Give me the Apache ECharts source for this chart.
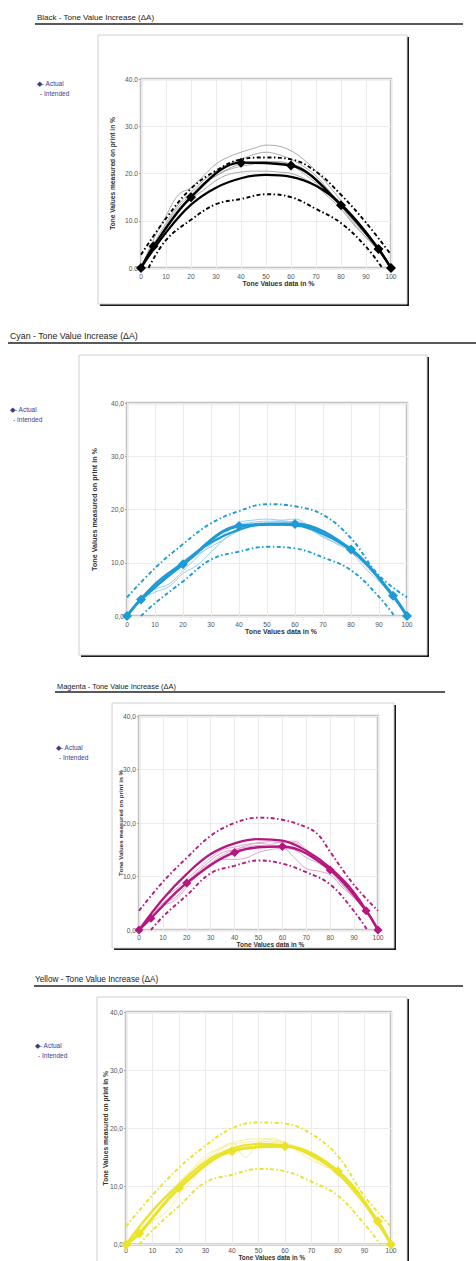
<!DOCTYPE html>
<html>
<head>
<meta charset="utf-8">
<script src="https://cdn.jsdelivr.net/npm/echarts@6/dist/echarts.min.js"></script>
<style>
  html, body { margin: 0; padding: 0; background: #fff; }
  #chart { width: 476px; height: 1261px; }
</style>
</head>
<body>
<div id="chart"></div>
<script>
// ---------- data ----------
const TITLES = ['Black - Tone Value Increase (\u0394A)', 'Cyan - Tone Value Increase (\u0394A)', 'Magenta - Tone Value Increase (\u0394A)', 'Yellow - Tone Value Increase (\u0394A)'];
const LEGEND_ACTUAL = '\u25C6- Actual';
const LEGEND_INTENDED = '- Intended';
const X_AXIS_NAME = 'Tone Values data in %';
const Y_AXIS_NAME = 'Tone Values measured on print in %';
const Y_TICKS_DOT = ['0.0', '10.0', '20.0', '30.0', '40.0'];
const Y_TICKS_COMMA = ['0,0', '10,0', '20,0', '30,0', '40,0'];
const X_TICKS = ['0', '10', '20', '30', '40', '50', '60', '70', '80', '90', '100'];

const X_ACTUAL = [0, 5, 20, 40, 60, 80, 95, 100];
const X_CURVE = [0, 10, 20, 30, 40, 50, 60, 70, 80, 90, 100];
const X_THIN = [0, 5, 10, 15, 20, 25, 30, 35, 40, 45, 50, 55, 60, 65, 70, 75, 80, 85, 90, 95, 100];

// Black
const blackActual = [0, 4.6, 15.0, 22.3, 21.7, 13.3, 4.0, 0];
const blackIntended = [0, 7.5, 13.4, 17.0, 19.0, 19.7, 19.3, 17.4, 13.5, 7.6, 0];
const blackUpper = [2.8, 10.5, 16.8, 20.6, 23.0, 23.4, 23.0, 20.4, 15.5, 9.6, 2.8];
const blackLowerX = [3, 10, 20, 30, 40, 50, 60, 70, 80, 90, 96.5];
const blackLower = [0, 5.9, 10.2, 13.5, 14.6, 15.6, 15.0, 12.5, 9.5, 4.5, 0];
const blackThin1 = [0, 6, 11, 15.5, 17, 19.5, 22, 23.5, 24.5, 25.3, 26, 25.8, 24.8, 23, 20.5, 17.5, 14.2, 10.5, 7.5, 4.5, 0];
const blackThin2 = [0, 5, 9.5, 13.5, 16, 18.5, 20.5, 22, 23, 24, 24.5, 24, 23, 21.5, 19.5, 16.5, 13.5, 10, 7, 4, 0];
const blackThin3 = [0, 4.5, 8.5, 12.5, 15, 17.5, 19.5, 21, 22, 22.3, 22.5, 22.3, 21.8, 20, 18, 15.5, 13, 9.5, 6.5, 3.8, 0];
const blackThin4 = [0, 4, 8, 12, 14.5, 16.5, 18.5, 19.8, 20.3, 20.5, 20.5, 20.3, 20, 19, 17.3, 15, 12.5, 9.2, 6.5, 3.6, 0];
const blackThin5 = [0, 4.5, 9, 13, 15.5, 18, 19.5, 20.8, 21.5, 22, 22.5, 22.5, 22, 21, 18.5, 16, 13.2, 10, 7, 4, 0];

// Cyan
const cyanActual = [0, 3.1, 9.7, 16.9, 17.3, 12.5, 3.8, 0];
const cyanIntended = [0, 6.0, 10.0, 13.8, 16.2, 17.2, 17.0, 15.4, 12.3, 7.2, 0];
const cyanUpper = [3.5, 9.0, 13.5, 17.4, 19.7, 21.0, 20.6, 19.0, 14.6, 7.6, 3.5];
const cyanLowerX = [5, 10, 20, 30, 40, 50, 60, 70, 80, 90, 95.5];
const cyanLower = [0, 2.4, 6.5, 10.6, 12.1, 13.0, 12.7, 11.0, 8.6, 3.6, 0];
const cyanThin1 = [0, 3, 5, 6, 8.5, 11, 13.5, 15.5, 17.5, 18, 18.2, 18, 18.2, 17, 15.5, 14, 12.5, 9.5, 7, 4, 0];
const cyanThin2 = [0, 3.3, 5.5, 7.5, 9.5, 11.5, 13, 14.5, 16, 17, 17.5, 17.8, 17.5, 16.5, 15, 13.5, 12, 9, 6.5, 3.8, 0];
const cyanThin3 = [0, 3, 4.5, 5.5, 8, 9.5, 12, 14.5, 16.5, 17.3, 17.5, 17.5, 17.8, 16.8, 15.3, 14, 12.8, 10, 7.2, 4, 0];
const cyanThin4 = [0, 3.5, 6, 8, 10.3, 12.3, 14.5, 16.3, 17.2, 17.6, 17.8, 17.8, 17.5, 16.3, 14.8, 13.6, 12.6, 9.8, 7, 3.9, 0];

// Magenta
const magentaActual = [0, 2.2, 8.8, 14.5, 15.6, 11.2, 3.6, 0];
const magentaIntended = [0, 5.8, 10.5, 14.2, 16.2, 17.0, 16.7, 14.8, 11.6, 7.0, 0];
const magentaUpperX = [0, 10, 20, 30, 40, 50, 60, 70, 75, 80, 90, 100];
const magentaUpper = [3.6, 9.0, 13.5, 17.6, 20.0, 21.0, 20.6, 19.2, 17.8, 14.6, 8.4, 3.6];
const magentaLowerX = [5, 10, 20, 30, 40, 50, 60, 70, 80, 90, 95.5];
const magentaLower = [0, 2.5, 6.5, 10.6, 12.0, 13.0, 12.4, 10.8, 8.5, 3.5, 0];
const magentaThin1 = [0, 2.5, 4.5, 5.5, 8, 10.5, 12.3, 13.2, 13.2, 13.5, 14.5, 15, 15.3, 13.5, 11.5, 11, 10.3, 8, 6, 3.5, 0];
const magentaThin2 = [0, 2.5, 5, 6, 8.5, 11, 13, 14.5, 15, 15.8, 16.3, 16.5, 16.3, 16.3, 14.5, 12.8, 11, 8.5, 6, 3.6, 0];
const magentaThin3 = [0, 2.8, 6, 7.5, 9.5, 11.5, 13.5, 15, 15.5, 16, 16.2, 16, 16.5, 16.6, 15, 13, 11.3, 8.8, 6.3, 3.7, 0];
const magentaThin4 = [0, 2.3, 5, 7, 9, 11, 12.5, 14, 15, 15.5, 15.8, 15.5, 15.3, 15, 13.5, 12.5, 11, 8.5, 6, 3.5, 0];

// Yellow
const yellowActual = [0, 1.9, 9.7, 16.1, 16.9, 12.6, 4.0, 0];
const yellowIntended = [0, 5.8, 10.3, 14.2, 16.5, 17.3, 17.0, 15.3, 12.2, 7.0, 0];
const yellowUpper = [3.1, 8.5, 13.2, 17.0, 20.0, 21.0, 20.8, 19.0, 15.2, 8.3, 3.1];
const yellowLowerX = [5, 10, 20, 30, 40, 50, 60, 70, 80, 90, 96];
const yellowLower = [0, 2.5, 6.6, 10.7, 12.0, 13.0, 12.6, 10.8, 8.4, 3.5, 0];
const yellowThin1 = [0, 1.5, 4, 5.5, 8.5, 11, 14, 16, 17.5, 15, 17.5, 18.3, 17.5, 16.5, 15.5, 14.5, 12.5, 9.5, 7, 4, 0];
const yellowThin2 = [0, 2.5, 5.5, 8, 10.5, 13, 15.3, 16.5, 17.5, 18, 18.2, 18, 17.6, 16.5, 15.3, 14, 12.5, 9.8, 7, 4, 0];
const yellowThin3 = [0, 2, 4.5, 7, 9.5, 12, 14.5, 15.5, 15.5, 16.8, 17.5, 17.8, 17.3, 16, 14.5, 13.5, 12, 9.5, 6.8, 4, 0];
const yellowThin4 = [0, 3, 6, 8.5, 10.8, 12.8, 14.8, 16.3, 17.2, 17.6, 17.8, 17.6, 17.3, 16.5, 15, 13.5, 12.8, 10, 7.2, 4.2, 0];

// ---------- layout / style ----------
const FONT = '"Liberation Sans", Arial, sans-serif';
const panels = [
  {
    title: TITLES[0], titleX: 37, titleY: 18, titleSize: 8, ruleY: 24, ruleX1: 35, ruleX2: 463,
    box: [98, 35, 309, 269], legX: 37, legY: 84,
    grid: { left: 141, top: 79, width: 250, height: 189 },
    yTicks: Y_TICKS_DOT, xLabelMargin: 5, xNameGap: 11.5, xNameSize: 6.9, yNameGap: 25.5, yNameSize: 6.6,
    main: '#000000', thin: '#a0a0a0', actualW: 2.4, symbol: 10,
    actual: blackActual, intended: blackIntended,
    upperX: X_CURVE, upper: blackUpper, lowerX: blackLowerX, lower: blackLower,
    thins: [blackThin1, blackThin2, blackThin3, blackThin4, blackThin5]
  },
  {
    title: TITLES[1], titleX: 10, titleY: 336.5, titleSize: 8.8, ruleY: 343, ruleX1: 8, ruleX2: 476,
    box: [79, 355, 348, 300], legX: 10, legY: 410,
    grid: { left: 127, top: 403, width: 280, height: 213 },
    yTicks: Y_TICKS_COMMA, xLabelMargin: 5, xNameGap: 12, xNameSize: 6.9, yNameGap: 29, yNameSize: 7.2,
    main: '#1e9ad6', thin: '#8fc9ea', actualW: 3, symbol: 10,
    actual: cyanActual, intended: cyanIntended,
    upperX: X_CURVE, upper: cyanUpper, lowerX: cyanLowerX, lower: cyanLower,
    thins: [cyanThin1, cyanThin2, cyanThin3, cyanThin4]
  },
  {
    title: TITLES[2], titleX: 57, titleY: 687, titleSize: 7.4, ruleY: 692, ruleX1: 55, ruleX2: 445,
    box: [112, 703, 282, 245], legX: 56, legY: 748,
    grid: { left: 139, top: 716, width: 239, height: 214 },
    yTicks: Y_TICKS_COMMA, xLabelMargin: 4, xNameGap: 10.5, xNameSize: 6.5, yNameGap: 16, yNameSize: 6.2,
    main: '#b5177f', thin: '#dc9ac7', actualW: 2.4, symbol: 9,
    actual: magentaActual, intended: magentaIntended,
    upperX: magentaUpperX, upper: magentaUpper, lowerX: magentaLowerX, lower: magentaLower,
    thins: [magentaThin1, magentaThin2, magentaThin3, magentaThin4]
  },
  {
    title: TITLES[3], titleX: 35, titleY: 980, titleSize: 8.2, ruleY: 986, ruleX1: 34, ruleX2: 463,
    box: [97, 997, 310, 300], legX: 35, legY: 1046,
    grid: { left: 126, top: 1012, width: 265, height: 233 },
    yTicks: Y_TICKS_COMMA, xLabelMargin: 2.5, xNameGap: 9.5, xNameSize: 6.4, yNameGap: 17, yNameSize: 6.7,
    main: '#ebe22a', thin: '#f3ee96', actualW: 3, symbol: 10,
    actual: yellowActual, intended: yellowIntended,
    upperX: X_CURVE, upper: yellowUpper, lowerX: yellowLowerX, lower: yellowLower,
    thins: [yellowThin1, yellowThin2, yellowThin3, yellowThin4]
  }
];

function zip(xs, ys) { return xs.map((x, i) => [x, ys[i]]); }

const grids = [], xAxes = [], yAxes = [], series = [], graphics = [];
const DASH = [4, 2.5, 1.5, 2.5];

panels.forEach((p, i) => {
  graphics.push({
    type: 'text', left: p.titleX, top: p.titleY - p.titleSize * 0.6, z: 5,
    style: { text: p.title, fill: '#1a1a1a', font: `${p.titleSize}px ${FONT}` }
  });
  graphics.push({
    type: 'line', z: 5,
    shape: { x1: p.ruleX1, y1: p.ruleY, x2: p.ruleX2, y2: p.ruleY },
    style: { stroke: '#222', lineWidth: 1.6 }
  });
  const [bx, by, bw, bh] = p.box;
  graphics.push({
    type: 'rect', z: -10, shape: { x: bx + 2, y: by + 2, width: bw, height: bh },
    style: { fill: '#1a1a1a' }
  });
  graphics.push({
    type: 'rect', z: -9, shape: { x: bx, y: by, width: bw, height: bh },
    style: { fill: '#ffffff', stroke: '#d0d0d0', lineWidth: 1 }
  });
  graphics.push({
    type: 'text', left: p.legX, top: p.legY - 4, z: 5,
    style: { text: LEGEND_ACTUAL, fill: '#3d3d8a', font: `6.5px ${FONT}` }
  });
  graphics.push({
    type: 'text', left: p.legX + 3, top: p.legY + 6, z: 5,
    style: { text: LEGEND_INTENDED, fill: '#3d3d8a', font: `6.5px ${FONT}` }
  });

  grids.push(Object.assign({ show: true, borderColor: '#c4c4c4', borderWidth: 2.5, backgroundColor: 'transparent', containLabel: false }, p.grid));

  xAxes.push({
    type: 'value', gridIndex: i, min: 0, max: 100, interval: 10,
    name: X_AXIS_NAME, nameLocation: 'middle', nameGap: p.xNameGap, nameMoveOverlap: false,
    nameTextStyle: { fontFamily: FONT, fontSize: p.xNameSize, fontWeight: 'bold', color: '#333', padding: [0, 0, 0, p.grid.width * 0.1] },
    axisLine: { show: false },
    axisTick: { show: false },
    axisLabel: { fontFamily: FONT, fontSize: 6.7, color: '#555', margin: p.xLabelMargin, formatter: v => X_TICKS[Math.round(v / 10)] },
    splitLine: { show: true, lineStyle: { color: '#ebebeb', width: 1 } }
  });
  const ticks = p.yTicks;
  yAxes.push({
    type: 'value', gridIndex: i, min: 0, max: 40, interval: 10,
    name: Y_AXIS_NAME, nameLocation: 'middle', nameGap: p.yNameGap, nameRotate: 90, nameMoveOverlap: false,
    nameTextStyle: { fontFamily: FONT, fontSize: p.yNameSize, fontWeight: 'bold', color: '#333' },
    axisLine: { show: false },
    axisTick: { show: true, length: 2, lineStyle: { color: '#aaa' } },
    axisLabel: { fontFamily: FONT, fontSize: 6.7, color: '#555', margin: 3, formatter: v => ticks[Math.round(v / 10)] },
    splitLine: { show: true, lineStyle: { color: '#ebebeb', width: 1 } }
  });

  p.thins.forEach(t => {
    series.push({
      type: 'line', xAxisIndex: i, yAxisIndex: i, data: zip(X_THIN, t), smooth: 0.4,
      symbol: 'none', lineStyle: { color: p.thin, width: 0.9 }, z: 2, silent: true
    });
  });
  series.push({
    type: 'line', xAxisIndex: i, yAxisIndex: i, data: zip(p.upperX, p.upper), smooth: 0.4,
    symbol: 'none', lineStyle: { color: p.main, width: 1.9, type: DASH }, z: 3
  });
  series.push({
    type: 'line', xAxisIndex: i, yAxisIndex: i, data: zip(p.lowerX, p.lower), smooth: 0.4,
    symbol: 'none', lineStyle: { color: p.main, width: 1.9, type: DASH }, z: 3
  });
  series.push({
    type: 'line', xAxisIndex: i, yAxisIndex: i, data: zip(X_CURVE, p.intended), smooth: 0.4,
    symbol: 'none', lineStyle: { color: p.main, width: 2.2 }, z: 4
  });
  series.push({
    type: 'line', xAxisIndex: i, yAxisIndex: i, data: zip(X_ACTUAL, p.actual), smooth: 0.35,
    symbol: 'diamond', symbolSize: p.symbol, itemStyle: { color: p.main },
    lineStyle: { color: p.main, width: p.actualW }, z: 5
  });
});

const chart = echarts.init(document.getElementById('chart'), null, { renderer: 'svg', width: 476, height: 1261 });
chart.setOption({
  animation: false,
  backgroundColor: '#ffffff',
  grid: grids,
  xAxis: xAxes,
  yAxis: yAxes,
  series: series,
  graphic: graphics
});
</script>
</body>
</html>
